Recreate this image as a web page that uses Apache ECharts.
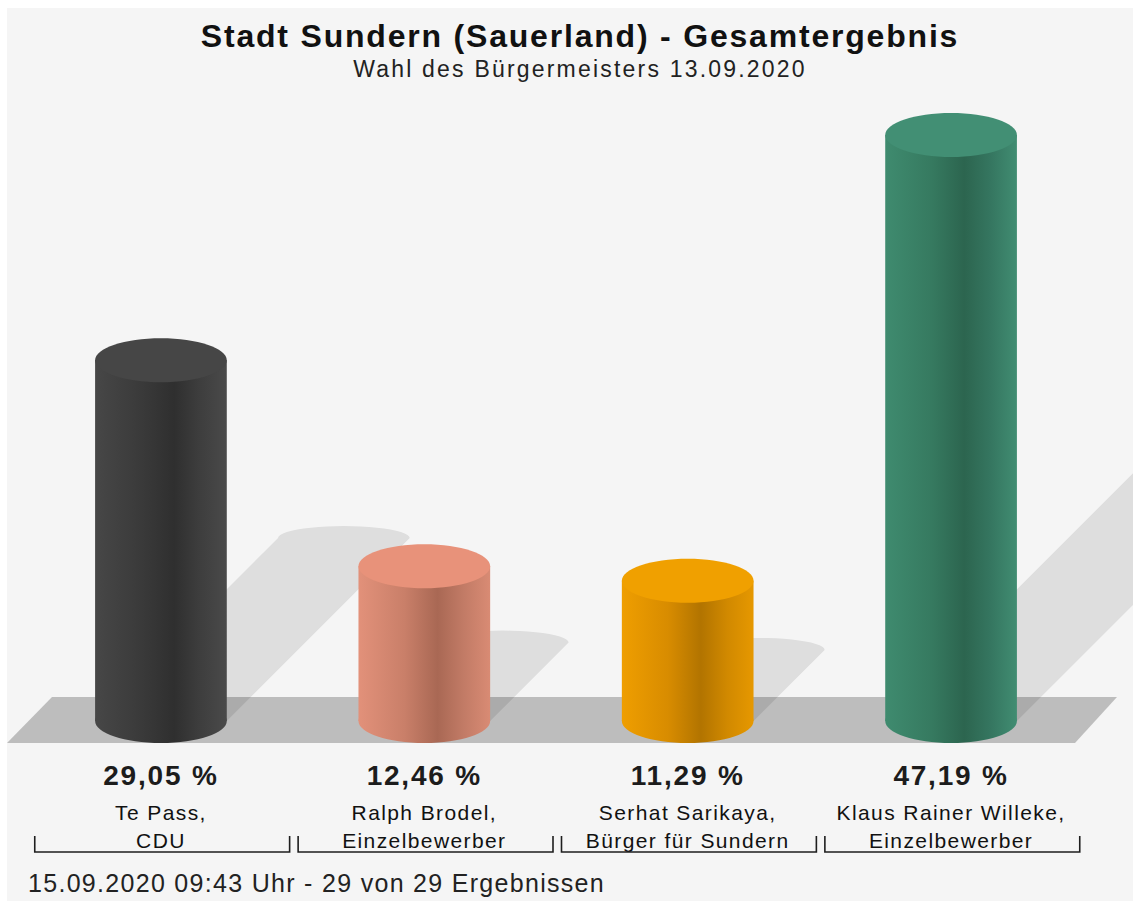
<!DOCTYPE html>
<html>
<head>
<meta charset="utf-8">
<script src="https://cdn.jsdelivr.net/npm/echarts@6/dist/echarts.min.js"></script>
<style>
  html, body { margin: 0; padding: 0; background: #ffffff; }
  #chart { width: 1133px; height: 905px; }
  #chart text[style*="lsTitle"] { letter-spacing: 1.8px; }
  #chart text[style*="lsSub"] { letter-spacing: 2.2px; }
  #chart text[style*="lsValue"] { letter-spacing: 1.8px; }
  #chart text[style*="lsName"] { letter-spacing: 1.4px; }
  #chart text[style*="lsFoot"] { letter-spacing: 1.3px; }
</style>
</head>
<body>
<div id="chart"></div>
<script>
// ---- data ----
const candidates = ['Te Pass,', 'Ralph Brodel,', 'Serhat Sarikaya,', 'Klaus Rainer Willeke,'];
const parties = ['CDU', 'Einzelbewerber', 'Bürger für Sundern', 'Einzelbewerber'];
const values = [29.05, 12.46, 11.29, 47.19];
const valueLabels = ['29,05 %', '12,46 %', '11,29 %', '47,19 %'];
const titleText = 'Stadt Sundern (Sauerland) - Gesamtergebnis';
const subtitleText = 'Wahl des Bürgermeisters 13.09.2020';
const footerText = '15.09.2020 09:43 Uhr - 29 von 29 Ergebnissen';

// ---- styles ----
const palette = [
  { top: '#464646', stops: ['#474747', '#3a3a3a', '#2f2f2f', '#3e3e3e', '#4a4a4a'] },
  { top: '#e8927a', stops: ['#e2917a', '#c97f69', '#a96854', '#c27b66', '#d98b74'] },
  { top: '#f0a000', stops: ['#ef9e00', '#d88c00', '#b27400', '#d18900', '#e69800'] },
  { top: '#428f74', stops: ['#3f8b6f', '#367a60', '#2c654f', '#357660', '#418d72'] }
];
function fam(tag) { return '"Liberation Sans", ' + tag + ', Arial, Helvetica, sans-serif'; }

const chart = echarts.init(document.getElementById('chart'), null, { renderer: 'svg' });

function bodyGradient(c) {
  const s = c.stops;
  return new echarts.graphic.LinearGradient(0, 0, 1, 0, [
    { offset: 0, color: s[0] },
    { offset: 0.35, color: s[1] },
    { offset: 0.6, color: s[2] },
    { offset: 0.8, color: s[3] },
    { offset: 1, color: s[4] }
  ]);
}

function renderShadow(params, api) {
  const x = api.value(0), v = api.value(1);
  const top = api.coord([x, v]);
  const base = api.coord([x, 0]);
  const band = api.size([1, 0])[0];
  const rx = band * 0.25;
  const h = base[1] - top[1];
  const U = h * 0.507;
  const cx = base[0], by = base[1];
  const pts = [[cx - rx, by], [cx - rx + U, by - U]];
  const capCx = cx + U, capCy = by - U, capRy = 12;
  for (let k = 0; k <= 24; k++) {
    const t = Math.PI + Math.PI * k / 24;
    pts.push([capCx + rx * Math.cos(t), capCy + capRy * Math.sin(t)]);
  }
  pts.push([cx + rx + U, by - U], [cx + rx, by]);
  return {
    type: 'polygon',
    shape: { points: pts },
    style: { fill: 'rgba(0,0,0,0.095)' },
    silent: true
  };
}

function renderCylinder(params, api) {
  const i = params.dataIndex;
  const x = api.value(0), v = api.value(1);
  const top = api.coord([x, v]);
  const base = api.coord([x, 0]);
  const band = api.size([1, 0])[0];
  const rx = band * 0.25;
  const ry = 22;
  const cx = base[0];
  const c = palette[i];
  const grad = bodyGradient(c);
  const bandL = cx - band / 2, bandR = cx + band / 2;
  const by = base[1];
  return {
    type: 'group',
    children: [
      { type: 'ellipse', shape: { cx: cx, cy: by, rx: rx, ry: ry }, style: { fill: grad } },
      { type: 'rect', shape: { x: cx - rx, y: top[1], width: rx * 2, height: by - top[1] }, style: { fill: grad } },
      { type: 'ellipse', shape: { cx: cx, cy: top[1], rx: rx, ry: ry }, style: { fill: c.top } },
      { type: 'text', style: { x: cx, y: by + 54, text: valueLabels[i], align: 'center', verticalAlign: 'middle',
          font: 'bold 28px ' + fam('lsValue'), fill: '#1c1c1c' } },
      { type: 'text', style: { x: cx, y: by + 91.5, text: candidates[i], align: 'center', verticalAlign: 'middle',
          font: '21px ' + fam('lsName'), fill: '#111111' } },
      { type: 'text', style: { x: cx, y: by + 119.5, text: parties[i], align: 'center', verticalAlign: 'middle',
          font: '21px ' + fam('lsName'), fill: '#111111' } },
      { type: 'polyline', shape: { points: [[bandL + 5.5, by + 115], [bandL + 5.5, by + 131], [bandR - 3, by + 131], [bandR - 3, by + 115]] },
          style: { stroke: '#1e1e1e', lineWidth: 1.6, fill: null } }
    ]
  };
}

const option = {
  backgroundColor: '#ffffff',
  animation: false,
  title: [
    {
      text: titleText,
      subtext: subtitleText,
      left: 575,
      textAlign: 'center',
      top: 15,
      itemGap: 5,
      textStyle: { fontFamily: fam('lsTitle'), fontWeight: 'bold', fontSize: 32, color: '#111111' },
      subtextStyle: { fontFamily: fam('lsSub'), fontSize: 23, color: '#222222' }
    },
    {
      text: footerText,
      left: 23,
      top: 865,
      textStyle: { fontFamily: fam('lsFoot'), fontWeight: 'normal', fontSize: 25, color: '#222222' }
    }
  ],
  graphic: [
    { type: 'rect', z: -10, silent: true, shape: { x: 7, y: 8, width: 1126, height: 893 }, style: { fill: '#f5f5f5' } },
    { type: 'polygon', z: -9, silent: true, shape: { points: [[7, 743], [52, 697], [1117, 697], [1075, 743]] }, style: { fill: '#bdbdbd' } }
  ],
  grid: { left: 29.25, right: 50.25, top: 100, bottom: 184 },
  xAxis: {
    type: 'category',
    data: candidates,
    show: false
  },
  yAxis: {
    type: 'value',
    min: 0,
    max: 50,
    interval: 10,
    show: false
  },
  series: [
    {
      type: 'custom',
      z: 1,
      clip: false,
      silent: true,
      renderItem: renderShadow,
      data: values.map((v, i) => [i, v])
    },
    {
      type: 'custom',
      z: 2,
      clip: false,
      silent: true,
      renderItem: renderCylinder,
      data: values.map((v, i) => [i, v])
    }
  ]
};
chart.setOption(option);
</script>
</body>
</html>
